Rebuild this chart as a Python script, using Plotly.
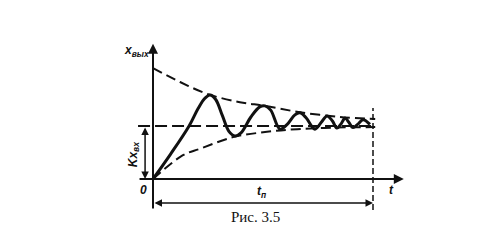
import plotly.graph_objects as go

# Transient response; steady state = 1, settling time t_p = 10
resp_t = [0, 0.8, 1.64, 2.05, 2.35, 2.59, 2.85, 3.15, 3.45, 3.73, 4.0, 4.45, 4.85, 5.09, 5.35, 5.77,
          6.1, 6.45, 6.68, 6.95, 7.36, 7.65, 7.91, 8.15, 8.36, 8.55, 8.73, 8.9, 9.09, 9.3, 9.55, 9.86]
resp_y = [0, 0.47, 1.0, 1.33, 1.52, 1.585, 1.5, 1.2, 0.9, 0.81, 0.87, 1.17, 1.36, 1.38, 1.3, 0.94,
          1.03, 1.21, 1.25, 1.16, 0.94, 1.07, 1.19, 1.1, 0.96, 1.04, 1.15, 1.07, 0.97, 1.03, 1.12, 1.03]

upper_t = [0, 1.23, 2.5, 3.95, 5.09, 6.68, 8.5, 10.1]
upper_y = [2.09, 1.83, 1.6, 1.45, 1.38, 1.26, 1.17, 1.13]

lower_t = [0, 1.36, 2.14, 3.64, 5.18, 6.55, 8.3, 10.1]
lower_y = [0, 0.45, 0.57, 0.79, 0.89, 0.94, 0.97, 0.98]

steady_t = [-0.68, 10.1]
steady_y = [1.0, 1.0]

t_p = 10.0
vline_y = [-0.585, 1.34]

black = "#111111"
dash = "10px,5px"

fig = go.Figure()
fig.add_trace(go.Scatter(x=resp_t, y=resp_y, mode="lines", line=dict(color=black, width=3, shape="spline", smoothing=1.0)))
fig.add_trace(go.Scatter(x=upper_t, y=upper_y, mode="lines", line=dict(color=black, width=2, dash=dash, shape="spline")))
fig.add_trace(go.Scatter(x=lower_t, y=lower_y, mode="lines", line=dict(color=black, width=2, dash=dash, shape="spline")))
fig.add_trace(go.Scatter(x=steady_t, y=steady_y, mode="lines", line=dict(color=black, width=2, dash="12px,5px")))
fig.add_trace(go.Scatter(x=[t_p, t_p], y=vline_y, mode="lines", line=dict(color=black, width=1.5, dash="6px,3px")))

def arrow(x0, y0, x1, y1, side="end", width=2):
    fig.add_annotation(x=x1, y=y1, ax=x0, ay=y0, xref="x", yref="y", axref="x", ayref="y",
                       text="", showarrow=True, arrowhead=2, arrowsize=1, arrowwidth=width,
                       arrowcolor=black, arrowside=side, standoff=0, startstandoff=0)

# axes
arrow(-0.68, 0, 11.4, 0)
arrow(0, -0.585, 0, 2.55)
# t_p dimension
arrow(0, -0.453, t_p, -0.453, side="end+start", width=1.5)
# K x_in dimension
arrow(-0.36, 1.0, -0.36, 0.0, side="end+start", width=1.5)

lab = dict(family="Liberation Sans", color=black)
fig.add_annotation(x=-0.77, y=2.42, xref="x", yref="y", showarrow=False,
                   text="<b><i>x<sub>вых</sub></i></b>", font=dict(size=12, **lab))
fig.add_annotation(x=-0.86, y=0.45, xref="x", yref="y", showarrow=False, textangle=-90,
                   text="<b><i>Kx<sub>вх</sub></i></b>", font=dict(size=12, **lab))
fig.add_annotation(x=-0.45, y=-0.21, xref="x", yref="y", showarrow=False,
                   text="<b><i>0</i></b>", font=dict(size=12, **lab))
fig.add_annotation(x=10.86, y=-0.2, xref="x", yref="y", showarrow=False,
                   text="<b><i>t</i></b>", font=dict(size=12, **lab))
fig.add_annotation(x=4.95, y=-0.25, xref="x", yref="y", showarrow=False,
                   text="<b><i>t<sub>п</sub></i></b>", font=dict(size=12, **lab))
fig.add_annotation(x=255/486, y=1 - 227/250, xref="paper", yref="paper", showarrow=False,
                   text="Рис. 3.5", font=dict(family="Liberation Serif", size=15, color=black))

fig.update_layout(
    width=486, height=250, margin=dict(l=0, r=0, t=0, b=0),
    paper_bgcolor="white", plot_bgcolor="white", showlegend=False,
    xaxis=dict(range=[-153/22, 333/22], visible=False, fixedrange=True),
    yaxis=dict(range=[-71/53, 179/53], visible=False, fixedrange=True),
)
fig.write_html("out.html")
